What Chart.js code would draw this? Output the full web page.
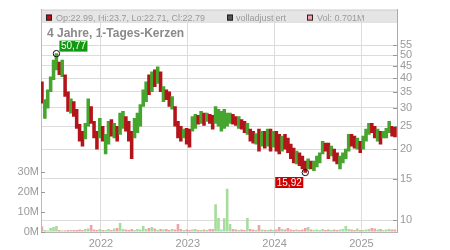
<!DOCTYPE html>
<html>
<head>
<meta charset="utf-8">
<script src="https://cdn.jsdelivr.net/npm/chart.js@4/dist/chart.umd.min.js"></script>
<style>
  html, body { margin: 0; padding: 0; background: #fff; }
</style>
</head>
<body>
<canvas id="c" width="450" height="250"></canvas>
<script>
/* ---- data: one bar every ~12 days ---- */
const startYear = 2021.32;          // first bar (decimal year)
const stepYear = 1 / 30;            // spacing between bars

const hi = [38.6, 32.4, 35.7, 40.5, 47.7, 50.77, 46.8, 47.7, 41.3, 35.0,
  32.7, 31.8, 29.5, 25.5, 23.8, 25.7, 32.7, 30.3, 26.2, 23.8,
  27.0, 25.0, 23.1, 26.2, 26.7, 25.7, 25.0, 28.4, 28.9, 27.5,
  26.2, 23.8, 27.0, 28.4, 30.9, 35.7, 38.6, 41.3, 42.5, 43.3,
  44.6, 42.5, 36.8, 35.7, 35.0, 33.4, 30.3, 26.2, 25.0, 24.3,
  24.5, 24.3, 27.5, 28.1, 27.8, 28.9, 28.4, 28.4, 28.1, 27.8,
  30.3, 29.5, 28.9, 29.5, 28.4, 28.4, 28.1, 27.5, 27.5, 26.7,
  26.2, 25.7, 24.3, 23.8, 23.3, 24.3, 23.8, 23.8, 24.3, 24.3,
  23.8, 23.8, 23.1, 22.7, 23.1, 22.3, 21.0, 20.2, 19.6, 19.3,
  18.7, 17.8, 18.2, 17.8, 17.8, 18.7, 19.3, 21.6, 21.2, 21.2,
  20.6, 20.0, 19.3, 18.7, 19.3, 20.0, 23.1, 23.1, 22.7, 22.3,
  21.6, 22.7, 24.3, 25.7, 25.7, 25.0, 24.3, 23.8, 23.8, 24.5,
  26.2, 25.0, 24.8];
const lo = [31.3, 27.0, 29.8, 35.0, 39.4, 43.3, 41.3, 40.5, 33.4, 28.9,
  28.4, 27.5, 24.5, 21.6, 20.6, 22.1, 25.0, 25.7, 22.3, 20.0,
  22.3, 21.6, 19.1, 21.0, 22.7, 22.3, 21.6, 23.1, 24.5, 23.8,
  21.6, 18.2, 22.3, 23.5, 25.0, 30.3, 31.8, 34.0, 35.0, 36.8,
  38.0, 35.0, 31.8, 32.4, 30.3, 29.5, 25.0, 22.3, 21.6, 22.3,
  21.0, 20.4, 23.8, 24.5, 25.5, 25.7, 25.2, 26.2, 25.7, 24.3,
  25.7, 25.0, 23.8, 24.5, 25.0, 25.7, 25.5, 25.2, 24.5, 24.3,
  23.5, 23.1, 21.6, 21.2, 21.0, 19.6, 20.6, 20.2, 20.6, 19.6,
  20.4, 19.6, 19.1, 19.6, 20.0, 19.3, 18.2, 17.5, 17.3, 17.0,
  16.5, 15.92, 16.5, 16.5, 16.2, 16.8, 17.5, 19.1, 19.6, 18.2,
  18.7, 17.8, 17.3, 16.5, 17.5, 18.2, 19.6, 20.6, 20.2, 20.0,
  19.3, 20.0, 21.6, 23.1, 23.5, 22.3, 21.6, 21.0, 22.3, 22.3,
  23.5, 22.7, 22.5];
// 1 = closed above open (green), 0 = closed below (red)
const up = [0, 1, 1, 1, 1, 1, 0, 1, 0, 0,
  1, 0, 0, 0, 0, 1, 1, 0, 0, 0,
  1, 0, 1, 1, 0, 1, 0, 1, 1, 0,
  0, 0, 1, 1, 1, 1, 1, 0, 1, 0,
  1, 0, 1, 0, 0, 1, 0, 0, 0, 1,
  0, 0, 1, 1, 0, 1, 0, 1, 0, 0,
  1, 1, 1, 1, 1, 1, 0, 0, 1, 0,
  0, 1, 0, 0, 1, 0, 1, 0, 1, 0,
  1, 0, 0, 1, 0, 0, 0, 0, 1, 0,
  0, 0, 1, 0, 1, 1, 1, 1, 0, 0,
  1, 0, 0, 1, 1, 1, 1, 0, 0, 1,
  0, 1, 1, 1, 0, 0, 1, 0, 1, 1,
  1, 0, 0];
// volume in millions
const vol = [2.8, 1.0, 0.8, 2.0, 2.5, 3.0, 1.0, 0.8, 0.8, 1.0,
  1.0, 1.0, 1.0, 1.2, 1.0, 1.5, 1.8, 3.5, 1.2, 1.0,
  1.5, 1.0, 1.0, 1.5, 1.0, 1.8, 2.0, 4.5, 1.5, 1.2,
  1.0, 1.5, 1.0, 1.5, 1.2, 3.0, 1.5, 2.0, 2.5, 1.8,
  1.0, 1.5, 1.2, 1.5, 1.0, 1.5, 1.2, 4.0, 1.5, 1.0,
  1.2, 1.0, 1.2, 1.5, 1.0, 1.0, 1.2, 1.0, 1.5, 1.5,
  13.8, 7.0, 1.2, 6.8, 21.5, 4.0, 1.5, 1.2, 1.0, 1.2,
  1.0, 7.0, 1.5, 1.2, 1.0, 3.5, 1.2, 1.0, 1.0, 1.2,
  1.0, 1.2, 2.5, 1.5, 1.2, 2.0, 1.2, 1.0, 1.2, 1.0,
  1.2, 2.0, 2.5, 1.2, 1.0, 1.2, 1.0, 1.5, 1.0, 1.2,
  1.0, 1.2, 1.0, 1.2, 1.5, 3.0, 1.5, 1.2, 1.0, 1.8,
  1.0, 1.0, 1.2, 1.5, 2.0, 1.8, 1.2, 1.5, 1.0, 1.2,
  1.5, 1.2, 1.2];

const priceTicks = [10, 15, 20, 25, 30, 35, 40, 45, 50, 55];
const volTicks = [0, 10, 20, 30];
const yearTicks = [2022, 2023, 2024, 2025];
const title = '4 Jahre, 1-Tages-Kerzen';
const legendOhlc = 'Op:22.99, Hi:23.7, Lo:22.71, Cl:22.79';
const legendAdj = 'volladjustiert';
const legendVol = 'Vol: 0.701M';

/* ---- look ---- */
const FONT = "'Liberation Sans', Arial, sans-serif";
const GREEN = '#46a52e', RED = '#b3141a';
const VGREEN = '#a6dc9c', VRED = '#f0a2aa';
const GRID = '#dcdcdc', TXT = '#9a9a9a';

const xs = hi.map((_, i) => startYear + i * stepYear);
const fixTicks = list => scale => { scale.ticks = list.map(v => ({ value: v })); };

/* header band, title, inward tick marks, hi/lo badges */
const decor = {
  id: 'decor',
  beforeDraw(chart) {
    const { ctx, chartArea: a } = chart;
    ctx.save();
    ctx.fillStyle = '#fff';
    ctx.fillRect(0, 0, chart.width, chart.height);
    ctx.fillStyle = '#e5e5e5';
    ctx.fillRect(a.left, a.top, a.right - a.left + 1, 12);
    ctx.strokeStyle = '#cfcfcf';
    ctx.lineWidth = 1;
    ctx.strokeRect(a.left + 0.5, a.top + 0.5, a.right - a.left, 12);

    const box = (x, color) => {
      ctx.fillStyle = color;
      ctx.fillRect(x, a.top + 5, 6, 6);
      ctx.strokeStyle = '#222';
      ctx.strokeRect(x + 0.5, a.top + 5.5, 5, 5);
    };
    ctx.font = '9px ' + FONT;
    ctx.textBaseline = 'alphabetic';
    box(46, RED);  ctx.fillStyle = TXT; ctx.fillText(legendOhlc, 56, a.top + 11);
    box(227, '#555'); ctx.fillStyle = TXT; ctx.fillText(legendAdj, 236, a.top + 11);
    box(307, VRED); ctx.fillStyle = TXT; ctx.fillText(legendVol, 317, a.top + 11);

    ctx.font = 'bold 12px ' + FONT;
    ctx.fillStyle = '#8a8a8a';
    ctx.fillText(title, 47, a.top + 27);
    ctx.restore();
  },
  afterDatasetsDraw(chart) {
    const { ctx, chartArea: a, scales } = chart;
    ctx.save();
    ctx.strokeStyle = '#999';
    ctx.lineWidth = 1;
    priceTicks.forEach(v => {
      const y = Math.round(scales.price.getPixelForValue(v)) + 0.5;
      ctx.beginPath(); ctx.moveTo(a.right - 4, y); ctx.lineTo(a.right, y); ctx.stroke();
    });
    volTicks.forEach(v => {
      const y = Math.round(scales.vol.getPixelForValue(v)) + 0.5;
      ctx.beginPath(); ctx.moveTo(a.left, y); ctx.lineTo(a.left + 4, y); ctx.stroke();
    });

    // highest high / lowest low badges
    const iMax = hi.indexOf(Math.max(...hi));
    const iMin = lo.indexOf(Math.min(...lo));
    const badge = (i, v, color, above) => {
      const px = scales.x.getPixelForValue(xs[i]);
      const py = scales.price.getPixelForValue(v);
      ctx.beginPath(); ctx.arc(px, py, 3.2, 0, Math.PI * 2);
      ctx.strokeStyle = '#111'; ctx.stroke();
      const txt = v.toFixed(2).replace('.', ',');
      ctx.font = '10px ' + FONT;
      const w = ctx.measureText(txt).width + 3, h = 11;
      const bx = above ? px + 3 : px - 2 - w;
      const by = above ? py - 2 - h : py + 4.5;
      ctx.fillStyle = color;
      ctx.fillRect(bx, by, w, h);
      ctx.fillStyle = '#fff';
      ctx.textBaseline = 'middle';
      ctx.fillText(txt, bx + 1.5, by + h / 2 + 0.5);
    };
    badge(iMax, hi[iMax], '#109a10', true);
    badge(iMin, lo[iMin], '#cc0000', false);
    ctx.restore();
  }
};

new Chart(document.getElementById('c'), {
  type: 'bar',
  data: {
    datasets: [
      {
        label: 'Kurs',
        data: xs.map((x, i) => ({ x, y: [lo[i], hi[i]] })),
        yAxisID: 'price',
        backgroundColor: up.map(u => (u ? GREEN : RED)),
        grouped: false, barPercentage: 1, categoryPercentage: 1,
        order: 1
      },
      {
        label: 'Vol',
        data: xs.map((x, i) => ({ x, y: vol[i] })),
        yAxisID: 'vol',
        backgroundColor: up.map(u => (u ? VGREEN : VRED)),
        grouped: false, barPercentage: 1, categoryPercentage: 0.9,
        order: 2
      }
    ]
  },
  options: {
    responsive: false,
    animation: false,
    devicePixelRatio: 1,
    layout: { padding: { top: 7, left: 0, right: 0, bottom: 0 } },
    plugins: { legend: { display: false }, tooltip: { enabled: false } },
    scales: {
      x: {
        type: 'linear', min: 2021.309, max: 2025.41, offset: false,
        afterBuildTicks: fixTicks(yearTicks),
        afterFit: s => { s.height = 18; },
        grid: { color: GRID, tickLength: 4, offset: false },
        border: { color: '#b5b5b5' },
        ticks: { callback: v => String(v), color: TXT, font: { size: 11, family: FONT },
                 padding: 1, maxRotation: 0, autoSkip: false }
      },
      price: {
        type: 'logarithmic', position: 'right', min: 8.91, max: 78,
        afterBuildTicks: fixTicks(priceTicks),
        afterFit: s => { s.width = 53; },
        grid: { color: GRID, drawTicks: false },
        border: { color: '#aaa' },
        ticks: { callback: v => String(v), color: TXT, font: { size: 11, family: FONT },
                 padding: 3, autoSkip: false }
      },
      vol: {
        type: 'linear', position: 'left', min: 0, max: 110.8,
        afterBuildTicks: fixTicks(volTicks),
        afterFit: s => { s.width = 41; },
        grid: { drawOnChartArea: false, drawTicks: false },
        border: { color: '#bbb' },
        ticks: { callback: v => v + 'M', color: TXT, font: { size: 11, family: FONT },
                 padding: 2, autoSkip: false }
      }
    }
  },
  plugins: [decor]
});
</script>
</body>
</html>
